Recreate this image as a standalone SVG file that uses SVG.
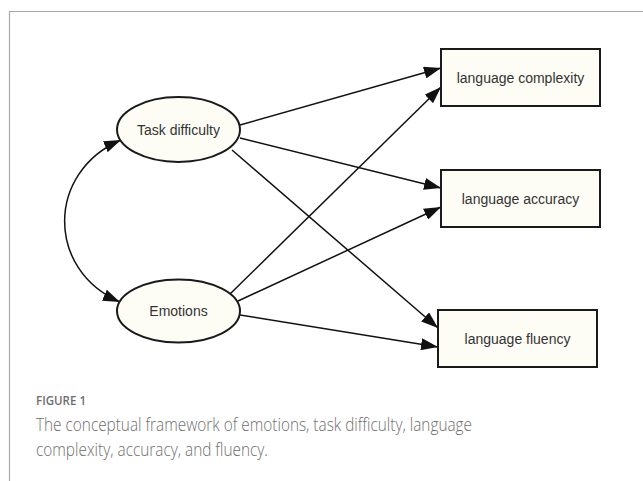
<svg xmlns="http://www.w3.org/2000/svg" width="643" height="481" viewBox="0 0 643 481">
<style>
.node{fill:#fdfdf6;stroke:#1a1a1a;stroke-width:2}
.lbl{font-family:"Liberation Sans",Arial,sans-serif;font-size:14px;fill:#333;text-anchor:middle}
.edge{fill:none;stroke:#111;stroke-width:1.5}
.cap{font-family:"Open Sans","Noto Sans",sans-serif;fill:#6e6e6e}
</style>
<defs>
<marker id="arr" markerUnits="userSpaceOnUse" markerWidth="17" markerHeight="12" viewBox="0 0 17 12" refX="17" refY="6" orient="auto-start-reverse">
<path d="M0,0 L17,6 L0,12 Z" fill="#111"/>
</marker>
</defs>
<rect x="0" y="0" width="643" height="481" fill="#fff"/>
<path d="M9.5,481 V11.5 H643" fill="none" stroke="#a8a8a8" stroke-width="1.2"/>
<g id="connectors">
<path class="edge" d="M240,125 L441,68" marker-end="url(#arr)"/>
<path class="edge" d="M240,138 L441,188" marker-end="url(#arr)"/>
<path class="edge" d="M232,150 L438,328" marker-end="url(#arr)"/>
<path class="edge" d="M230,294 L441,87" marker-end="url(#arr)"/>
<path class="edge" d="M238,301 L441,207" marker-end="url(#arr)"/>
<path class="edge" d="M240,315 L438,347" marker-end="url(#arr)"/>
<path class="edge" d="M121,140 C46,172 46,270 120,302" marker-start="url(#arr)" marker-end="url(#arr)"/>
</g>
<g id="task">
<ellipse class="node" cx="178.5" cy="129.5" rx="61.5" ry="32.5"/>
<text class="lbl" x="178.5" y="134.5">Task difficulty</text>
</g>
<g id="emotions">
<ellipse class="node" cx="178.5" cy="311" rx="61.5" ry="31.5"/>
<text class="lbl" x="178.5" y="316">Emotions</text>
</g>
<g id="complexity">
<rect class="node" x="441" y="49" width="159" height="57"/>
<text class="lbl" x="520.5" y="83">language complexity</text>
</g>
<g id="accuracy">
<rect class="node" x="441" y="170" width="159" height="57"/>
<text class="lbl" x="520.5" y="204">language accuracy</text>
</g>
<g id="fluency">
<rect class="node" x="438" y="310" width="159" height="57"/>
<text class="lbl" x="517.5" y="344">language fluency</text>
</g>
<g id="caption">
<text class="cap" x="36" y="405" font-size="13" font-weight="600" fill="#7a7a7a" textLength="50" lengthAdjust="spacingAndGlyphs">FIGURE 1</text>
<text class="cap" x="36" y="431" font-size="18.5" font-weight="300" textLength="436" lengthAdjust="spacingAndGlyphs">The conceptual framework of emotions, task difficulty, language</text>
<text class="cap" x="36" y="456" font-size="18.5" font-weight="300" textLength="232" lengthAdjust="spacingAndGlyphs">complexity, accuracy, and fluency.</text>
</g>
</svg>
